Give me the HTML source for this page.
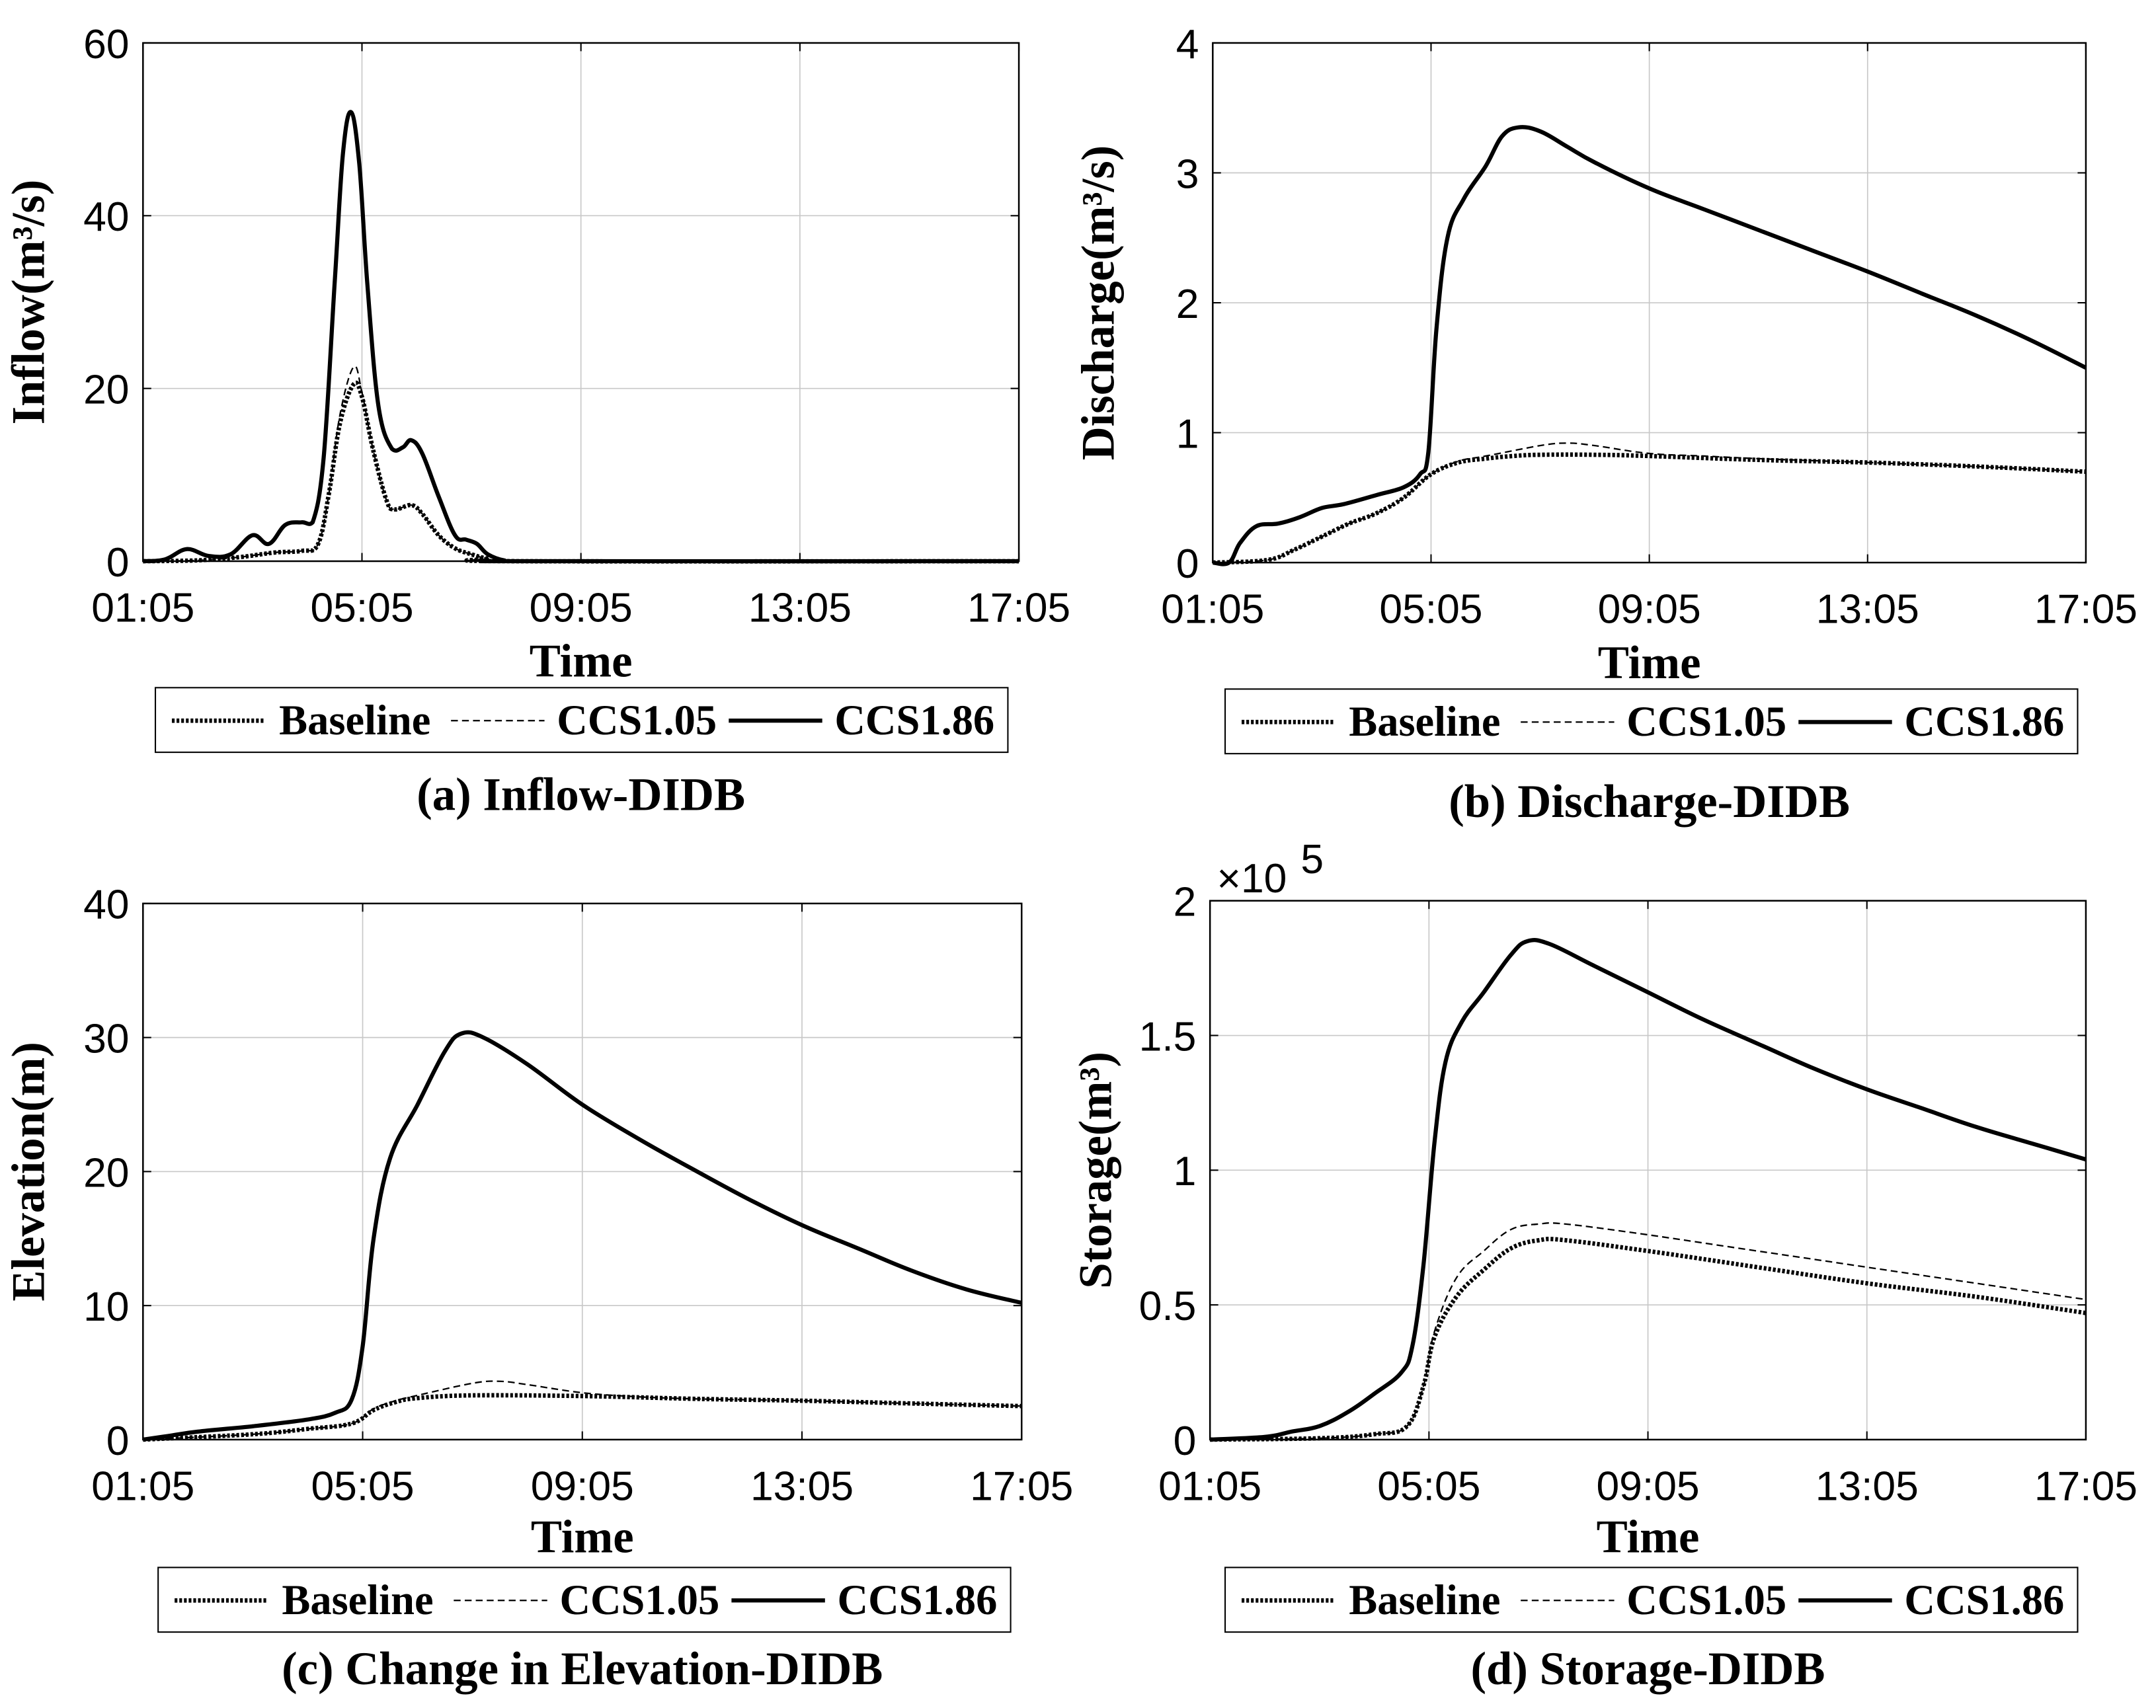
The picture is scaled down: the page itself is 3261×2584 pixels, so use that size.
<!DOCTYPE html>
<html><head><meta charset="utf-8"><style>
html,body{margin:0;padding:0;background:#fff}
svg{display:block}
.tick{font-family:"Liberation Sans",sans-serif;font-size:30px;fill:#000}
.lab{font-family:"Liberation Serif",serif;font-weight:bold;font-size:34px;fill:#000}
.leg{font-family:"Liberation Serif",serif;font-weight:bold;font-size:31px;fill:#000}
.cap{font-family:"Liberation Serif",serif;font-weight:bold;font-size:34px;fill:#000}
</style></head><body>
<svg id="fig" width="3261" height="2584" viewBox="0 0 1568 1242" xmlns="http://www.w3.org/2000/svg"></svg>
<script>
const timeTicks=["01:05","05:05","09:05","13:05","17:05"];
const seriesNames=["Baseline","CCS1.05","CCS1.86"];
// x values in hours after 01:05
const inflowBaseX=[0,1,1.8,2.4,2.9,3.2,3.4,3.6,3.85,4.0,4.2,4.45,4.6,4.9,5.1,5.4,5.7,6.0,6.3,6.8,16];
const inflowBaseY=[0,0.1,0.5,1,1.2,2,8,16,20.5,19,13,7,6,6.5,5.5,3,1.5,0.8,0.3,0,0];
const inflowC105X=[0,1,1.8,2.4,2.9,3.2,3.4,3.6,3.85,4.0,4.2,4.45,4.6,4.9,5.1,5.4,5.7,6.0,6.3,6.8,16];
const inflowC105Y=[0,0.1,0.5,1,1.2,2,8,17,22.5,19.5,13,7,6,6.5,5.5,3,1.5,0.8,0.3,0,0];
const inflowC186X=[0,0.4,0.8,1.2,1.6,2.0,2.3,2.6,2.9,3.1,3.3,3.5,3.65,3.8,3.95,4.1,4.3,4.55,4.75,4.9,5.1,5.4,5.7,5.9,6.1,6.3,6.6,7,16];
const inflowC186Y=[0,0.2,1.4,0.6,0.8,3,2,4.2,4.5,4.5,12,32,47,52,46,32,18,13,13.2,14,12.5,7.5,3,2.5,2,0.8,0.1,0,0];
const dischBaseX=[0,1,1.5,2,2.5,3,3.5,4,4.5,5,5.5,6,7,8,10,12,14,16];
const dischBaseY=[0,0.02,0.1,0.2,0.3,0.38,0.5,0.68,0.77,0.8,0.82,0.83,0.83,0.82,0.79,0.77,0.74,0.7];
const dischC105X=[0,1,1.5,2,2.5,3,3.5,4,4.5,5,6,6.5,7,8,9,10,12,14,16];
const dischC105Y=[0,0.02,0.1,0.2,0.3,0.38,0.5,0.68,0.78,0.82,0.9,0.92,0.9,0.84,0.82,0.8,0.77,0.74,0.7];
const dischC186X=[0,0.3,0.5,0.8,1.2,1.6,2,2.4,3,3.5,3.8,3.95,4.1,4.3,4.6,5,5.3,5.6,6,6.5,7,8,9,10,11,12,13,14,15,16];
const dischC186Y=[0,0,0.15,0.28,0.3,0.35,0.42,0.45,0.52,0.58,0.68,0.85,1.8,2.5,2.8,3.05,3.28,3.35,3.32,3.2,3.08,2.88,2.72,2.56,2.4,2.24,2.07,1.9,1.71,1.5];
const elevBaseX=[0,2,3,3.8,4.2,4.6,5,6,8,10,12,14,16];
const elevBaseY=[0,0.4,0.8,1.2,2.2,2.8,3.1,3.3,3.25,3.05,2.9,2.7,2.5];
const elevC105X=[0,2,3,3.8,4.2,4.6,5,6,6.5,7,8,9,10,12,14,16];
const elevC105Y=[0,0.4,0.8,1.2,2.3,2.9,3.3,4.2,4.35,4.1,3.5,3.2,3.05,2.9,2.7,2.5];
const elevC186X=[0,0.5,1,2,3,3.5,3.8,4,4.2,4.5,5,5.5,5.8,6.2,7,8,9,10,11,12,13,14,15,16];
const elevC186Y=[0,0.3,0.6,1,1.5,2,3,7,15,21,25,29,30.3,30,28,25,22.5,20.2,18,16,14.3,12.6,11.2,10.2];
const storBaseX=[0,2,3,3.6,3.9,4.1,4.5,5,5.5,6,6.5,8,10,12,14,16];
const storBaseY=[0,0.005,0.02,0.05,0.2,0.38,0.53,0.63,0.71,0.74,0.74,0.7,0.64,0.58,0.53,0.47];
const storC105X=[0,2,3,3.6,3.9,4.1,4.5,5,5.5,6,6.5,8,10,12,14,16];
const storC105Y=[0,0.005,0.02,0.05,0.2,0.4,0.6,0.7,0.78,0.8,0.8,0.76,0.7,0.64,0.58,0.52];
const storC186X=[0,1,1.5,2,2.5,3,3.5,3.7,3.9,4.1,4.3,4.6,5,5.5,5.8,6.2,7,8,9,10,11,12,13,14,15,16];
const storC186Y=[0,0.01,0.03,0.05,0.1,0.17,0.25,0.35,0.65,1.1,1.4,1.55,1.66,1.8,1.85,1.84,1.76,1.66,1.56,1.47,1.38,1.3,1.23,1.16,1.1,1.04];

const NS="http://www.w3.org/2000/svg";
const svg=document.getElementById('fig');
function el(tag,attrs,parent,text){const e=document.createElementNS(NS,tag);for(const k in attrs)e.setAttribute(k,attrs[k]);if(text!==undefined)e.textContent=text;(parent||svg).appendChild(e);return e;}
const styles=[{w:3.2,d:"2 1.4"},{w:1.1,d:"5 3"},{w:3,d:"none"}];
function smooth(P){
 let d="M"+P[0][0].toFixed(1)+","+P[0][1].toFixed(1);
 for(let i=0;i<P.length-1;i++){
  const p0=P[Math.max(0,i-1)],p1=P[i],p2=P[i+1],p3=P[Math.min(P.length-1,i+2)];
  const t=0.18;
  let c1y=p1[1]+(p2[1]-p0[1])*t, c2y=p2[1]-(p3[1]-p1[1])*t;
  const lo=Math.min(p1[1],p2[1]),hi=Math.max(p1[1],p2[1]);
  c1y=Math.min(Math.max(c1y,lo-3),hi+3);c2y=Math.min(Math.max(c2y,lo-3),hi+3);
  d+=" C"+(p1[0]+(p2[0]-p0[0])*t).toFixed(1)+","+c1y.toFixed(1)+" "+(p2[0]-(p3[0]-p1[0])*t).toFixed(1)+","+c2y.toFixed(1)+" "+p2[0].toFixed(1)+","+p2[1].toFixed(1);
 }
 return d;
}

const panels=[
 {id:"inflow",L:104,R:741,T:31,B:408,ymax:60,yt:[0,20,40,60],ytl:["0","20","40","60"],ylab:"Inflow(m³/s)",cap:"(a) Inflow-DIDB",legY:524,legX:113,capY:589,timeY:492,
  data:[[inflowBaseX,inflowBaseY],[inflowC105X,inflowC105Y],[inflowC186X,inflowC186Y]]},
 {id:"discharge",L:882,R:1517,T:31,B:409,ymax:4,yt:[0,1,2,3,4],ytl:["0","1","2","3","4"],ylab:"Discharge(m³/s)",cap:"(b) Discharge-DIDB",legY:525,legX:891,capY:594,timeY:493,
  data:[[dischBaseX,dischBaseY],[dischC105X,dischC105Y],[dischC186X,dischC186Y]]},
 {id:"elevation",L:104,R:743,T:657,B:1047,ymax:40,yt:[0,10,20,30,40],ytl:["0","10","20","30","40"],ylab:"Elevation(m)",cap:"(c) Change in Elevation-DIDB",legY:1164,legX:115,capY:1225,timeY:1129,
  data:[[elevBaseX,elevBaseY],[elevC105X,elevC105Y],[elevC186X,elevC186Y]]},
 {id:"storage",L:880,R:1517,T:655,B:1047,ymax:2,yt:[0,0.5,1,1.5,2],ytl:["0","0.5","1","1.5","2"],ylab:"Storage(m³)",cap:"(d) Storage-DIDB",legY:1164,legX:891,capY:1225,timeY:1129,
  data:[[storBaseX,storBaseY],[storC105X,storC105Y],[storC186X,storC186Y]]}
];

panels.forEach(p=>{
 const g=el('g',{});
 
 
 const xs=h=>p.L+(p.R-p.L)*h/16, ys=v=>p.B-(p.B-p.T)*v/p.ymax;
 for(let i=1;i<4;i++){const gl=el('line',{x1:xs(i*4),x2:xs(i*4),y1:p.T,y2:p.B,stroke:'#c8c8c8','stroke-width':0.8},g);}
 p.yt.forEach((v,i)=>{if(i>0&&i<p.yt.length-1){const gl=el('line',{x1:p.L,x2:p.R,y1:ys(v),y2:ys(v),stroke:'#c8c8c8','stroke-width':0.8},g);}});
 p.data.forEach((s,k)=>{
  const P=s[0].map((x,i)=>[xs(x),ys(s[1][i])]);
  const pl=el('path',{d:smooth(P),fill:'none',stroke:'#000','stroke-width':styles[k].w,'stroke-dasharray':styles[k].d,'stroke-linejoin':'round'},g);
  
  
 });
 const bx=el('rect',{x:p.L,y:p.T,width:p.R-p.L,height:p.B-p.T,fill:'none',stroke:'#000','stroke-width':1.2},g);
 
 timeTicks.forEach((t,i)=>{
  el('line',{x1:xs(i*4),x2:xs(i*4),y1:p.B,y2:p.B-6,stroke:'#000','stroke-width':1},g);
  el('line',{x1:xs(i*4),x2:xs(i*4),y1:p.T,y2:p.T+6,stroke:'#000','stroke-width':1},g);
  const tx=el('text',{x:xs(i*4),y:p.B+44,'text-anchor':'middle',class:'tick'},g,t);
  
 });
 p.yt.forEach((v,i)=>{
  el('line',{x1:p.L,x2:p.L+6,y1:ys(v),y2:ys(v),stroke:'#000','stroke-width':1},g);
  el('line',{x1:p.R,x2:p.R-6,y1:ys(v),y2:ys(v),stroke:'#000','stroke-width':1},g);
  const ty=el('text',{x:p.L-10,y:ys(v)+11,'text-anchor':'end',class:'tick'},g,p.ytl[i]);
  
 });
 if(p.id==='storage'){
  const m=el('text',{x:p.L+5,y:p.T-6,class:'tick'},g,'×10');
  
  el('text',{x:p.L+66,y:p.T-20,class:'tick','font-size':'20'},g,'5');
 }
 const xl=el('text',{x:(p.L+p.R)/2,y:p.timeY,'text-anchor':'middle',class:'lab'},g,'Time');
 
 const ylx=p.L-72, yly=(p.T+p.B)/2;
 const yl=el('text',{x:ylx,y:yly,'text-anchor':'middle',class:'lab',transform:'rotate(-90 '+ylx+' '+yly+')','font-size':p.id==='storage'?28:34},g,p.ylab);
 
 const lx=p.legX, ly=p.legY;
 const lg=el('g',{},g);
 
 el('rect',{x:lx,y:ly-24,width:620,height:47,fill:'#fff',stroke:'#000','stroke-width':1},lg);
 const off=[[12,90],[215,292],[417,494]];
 seriesNames.forEach((n,k)=>{
  const e=el('g',{},lg);
  
  
  el('line',{x1:lx+off[k][0],x2:lx+off[k][0]+68,y1:ly,y2:ly,stroke:'#000','stroke-width':styles[k].w,'stroke-dasharray':styles[k].d},e);
  el('text',{x:lx+off[k][1],y:ly+10,class:'leg'},e,n);
 });
 const c=el('text',{x:(p.L+p.R)/2,y:p.capY,'text-anchor':'middle',class:'cap'},g,p.cap);
 
});
</script>
</body></html>
